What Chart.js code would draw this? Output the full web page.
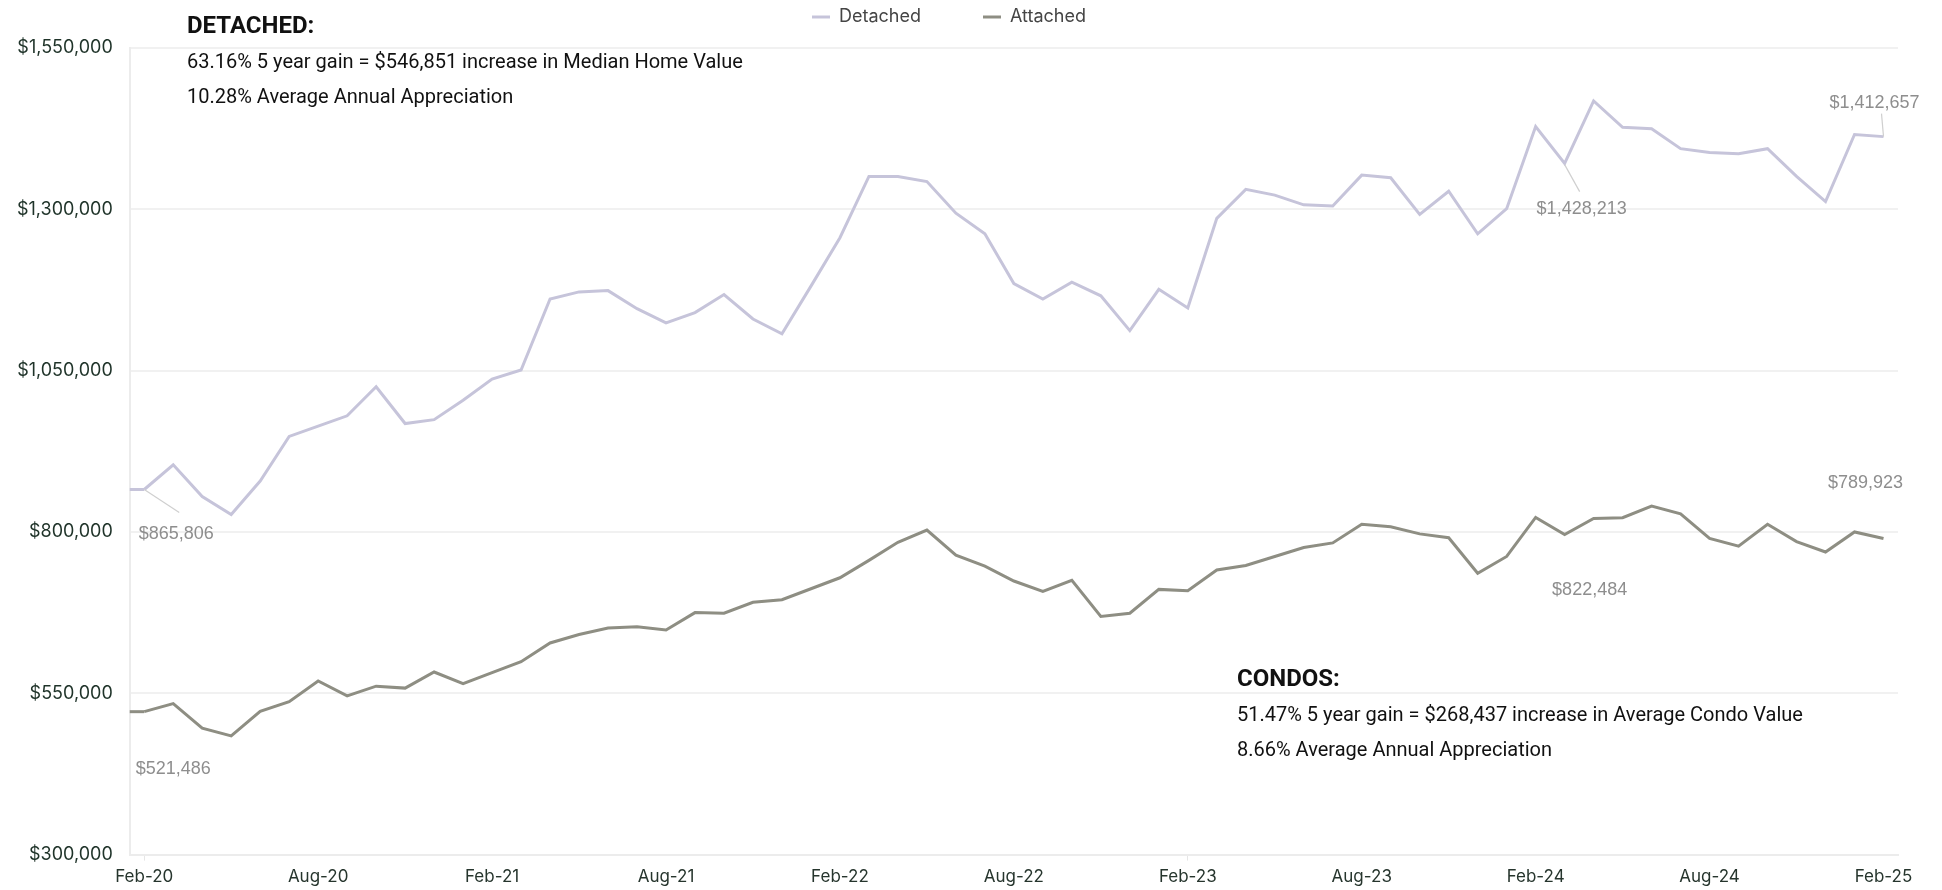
<!DOCTYPE html>
<html>
<head>
<meta charset="utf-8">
<script src="https://cdn.jsdelivr.net/npm/chart.js@4.4.1/dist/chart.umd.min.js"></script>
<style>
  body { margin: 0; background: #fff; }
  #wrap { position: relative; width: 1942px; height: 890px; }
  .note { position: absolute; font-family: Roboto, "Liberation Sans", sans-serif; color: #111; font-size: 20px; line-height: 35px; }
  .note b { font-size: 24px; font-weight: 700; }
</style>
</head>
<body>
<div id="wrap">
  <canvas id="chart" width="1942" height="890"></canvas>
  <div class="note" style="left:187px; top:8px;">
    <b>DETACHED:</b><br>
    63.16% 5 year gain = $546,851 increase in Median Home Value<br>
    10.28% Average Annual Appreciation
  </div>
  <div class="note" style="left:1237px; top:661px;">
    <b>CONDOS:</b><br>
    51.47% 5 year gain = $268,437 increase in Average Condo Value<br>
    8.66% Average Annual Appreciation
  </div>
</div>
<script>
// --- Datos ---
const months = [
  'Feb-20','Mar-20','Apr-20','May-20','Jun-20','Jul-20','Aug-20','Sep-20','Oct-20','Nov-20','Dec-20','Jan-21',
  'Feb-21','Mar-21','Apr-21','May-21','Jun-21','Jul-21','Aug-21','Sep-21','Oct-21','Nov-21','Dec-21','Jan-22',
  'Feb-22','Mar-22','Apr-22','May-22','Jun-22','Jul-22','Aug-22','Sep-22','Oct-22','Nov-22','Dec-22','Jan-23',
  'Feb-23','Mar-23','Apr-23','May-23','Jun-23','Jul-23','Aug-23','Sep-23','Oct-23','Nov-23','Dec-23','Jan-24',
  'Feb-24','Mar-24','Apr-24','May-24','Jun-24','Jul-24','Aug-24','Sep-24','Oct-24','Nov-24','Dec-24','Jan-25',
  'Feb-25'
];

const detached = [
  865806, 904000, 855000, 827000, 879000, 948000, 964000, 980000, 1025000, 968000, 974000, 1004000,
  1037000, 1051000, 1161000, 1172000, 1174000, 1146000, 1124000, 1140000, 1168000, 1130000, 1107000, 1181000,
  1256000, 1351000, 1351000, 1343000, 1294000, 1262000, 1185000, 1161000, 1187000, 1166000, 1112000, 1176000,
  1147000, 1286000, 1331000, 1322000, 1307000, 1305000, 1353000, 1349000, 1292000, 1328000, 1262000, 1301000,
  1428213, 1371000, 1468000, 1427000, 1425000, 1394000, 1388000, 1386000, 1394000, 1351000, 1312000, 1416000,
  1412657
];

const attached = [
  521486, 534000, 496000, 484000, 522000, 537000, 569000, 546000, 561000, 558000, 583000, 565000,
  582000, 599000, 628000, 641000, 651000, 653000, 648000, 675000, 674000, 691000, 695000, 712000,
  729000, 756000, 784000, 803000, 764000, 747000, 724000, 708000, 725000, 669000, 674000, 711000,
  709000, 741000, 748000, 762000, 776000, 783000, 812000, 808000, 797000, 791000, 736000, 762000,
  822484, 796000, 821000, 822000, 840000, 828000, 790000, 778000, 812000, 785000, 769000, 800000,
  789923
];

const yMin = 300000;
const yMax = 1550000;
const yStep = 250000;

const fmtMoney = v => '$' + Math.round(v).toLocaleString('en-US');

// etiquetas de datos: serie, índice, desplazamiento en px y línea guía opcional
const pointLabels = [
  { ds: 0, i: 0,  dx: 32,  dy: 45,  leader: [0, 0, 35, 23] },
  { ds: 1, i: 0,  dx: 29,  dy: 57 },
  { ds: 0, i: 48, dx: 46,  dy: 82,  leader: [29, 38, 44, 65] },
  { ds: 0, i: 60, dx: -9,  dy: -34, leader: [0, 0, -2, -23] },
  { ds: 1, i: 48, dx: 54,  dy: 73 },
  { ds: 1, i: 60, dx: -18, dy: -55 }
];

// deja más aire debajo de la leyenda
const legendGapPlugin = {
  id: 'legendGap',
  afterInit(chart) {
    const fit = chart.legend.fit;
    chart.legend.fit = function () {
      fit.call(this);
      this.height += 12;
    };
  }
};

// tramo corto desde el eje hasta el primer punto (como en el original)
const stubPlugin = {
  id: 'stub',
  beforeDatasetsDraw(chart) {
    const ctx = chart.ctx;
    ctx.save();
    chart.data.datasets.forEach((ds, k) => {
      const pt = chart.getDatasetMeta(k).data[0];
      ctx.strokeStyle = ds.borderColor;
      ctx.lineWidth = ds.borderWidth;
      ctx.beginPath();
      ctx.moveTo(chart.chartArea.left, pt.y);
      ctx.lineTo(pt.x, pt.y);
      ctx.stroke();
    });
    ctx.restore();
  }
};

const labelPlugin = {
  id: 'pointLabels',
  afterDatasetsDraw(chart) {
    const ctx = chart.ctx;
    ctx.save();
    pointLabels.forEach(l => {
      const pt = chart.getDatasetMeta(l.ds).data[l.i];
      if (l.leader) {
        ctx.strokeStyle = '#cfcfcf';
        ctx.lineWidth = 1.2;
        ctx.beginPath();
        ctx.moveTo(pt.x + l.leader[0], pt.y + l.leader[1]);
        ctx.lineTo(pt.x + l.leader[2], pt.y + l.leader[3]);
        ctx.stroke();
      }
      ctx.fillStyle = '#8e8e8e';
      ctx.font = '18px "Liberation Sans", sans-serif';
      ctx.textAlign = 'center';
      ctx.textBaseline = 'middle';
      ctx.fillText(fmtMoney(chart.data.datasets[l.ds].data[l.i]), pt.x + l.dx, pt.y + l.dy);
    });
    ctx.restore();
  }
};

new Chart(document.getElementById('chart'), {
  type: 'line',
  data: {
    labels: months,
    datasets: [
      { label: 'Detached', data: detached, borderColor: '#c6c4da', backgroundColor: '#c6c4da',
        borderWidth: 3, pointRadius: 0, tension: 0 },
      { label: 'Attached', data: attached, borderColor: '#8e8e83', backgroundColor: '#8e8e83',
        borderWidth: 3, pointRadius: 0, tension: 0 }
    ]
  },
  options: {
    responsive: false,
    animation: false,
    devicePixelRatio: 1,
    layout: { padding: { left: 0, right: 44, top: 0, bottom: -3 } },
    plugins: {
      legend: {
        position: 'top',
        labels: {
          usePointStyle: true,
          pointStyle: 'line',
          pointStyleWidth: 18,
          padding: 8,
          color: '#454545',
          font: { family: 'Inter, "Noto Sans", sans-serif', size: 18 },
          generateLabels: chart => Chart.defaults.plugins.legend.labels.generateLabels(chart)
            .map((item, k) => ({ ...item, text: k === 0 ? item.text + '\u2003\u2003\u2003' : item.text }))
        }
      },
      tooltip: { enabled: false }
    },
    scales: {
      x: {
        offset: true,
        grid: {
          drawOnChartArea: false,
          tickLength: 6,
          color: ctx => (ctx.index % 6 === 0 ? '#e6e6e6' : 'rgba(0,0,0,0)')
        },
        border: { color: '#ececec', width: 2 },
        ticks: {
          autoSkip: false,
          maxRotation: 0,
          padding: 6,
          color: '#26352d',
          font: { family: 'Inter, "Noto Sans", sans-serif', size: 17 },
          callback: (v, i) => (i % 6 === 0 ? months[i] : null)
        }
      },
      y: {
        min: yMin,
        max: yMax,
        ticks: {
          stepSize: yStep,
          padding: 17,
          color: '#1f3329',
          font: { family: 'Inter, "Noto Sans", sans-serif', size: 18 },
          callback: v => fmtMoney(v)
        },
        grid: { color: '#f1f1f1', lineWidth: 2, drawTicks: false },
        border: { color: '#ececec', width: 2 }
      }
    }
  },
  plugins: [legendGapPlugin, stubPlugin, labelPlugin]
});
</script>
</body>
</html>
